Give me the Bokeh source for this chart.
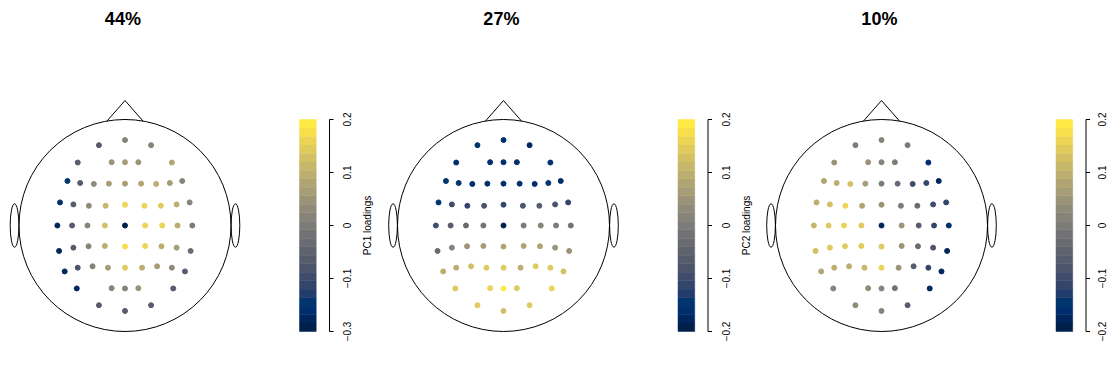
import math

from bokeh.core.properties import value
from bokeh.embed import file_html
from bokeh.layouts import row
from bokeh.models import Range1d
from bokeh.palettes import cividis
from bokeh.plotting import figure
from bokeh.resources import INLINE
from bokeh.transform import linear_cmap

# ---------------------------------------------------------------- data
titles = ["44%", "27%", "10%"]
cbar_titles = ["PC1 loadings", "PC2 loadings", ""]
cbar_ticks = [-0.2, -0.1, 0.0, 0.1, 0.2]
cbar_tick_labels = [
    ["\u22120.3", "\u22120.1", "0", "0.1", "0.2"],
    ["\u22120.2", "\u22120.1", "0", "0.1", "0.2"],
    ["\u22120.2", "\u22120.1", "0", "0.1", "0.2"],
]
color_low = [-0.3, -0.2, -0.2]
color_high = [0.2, 0.2, 0.2]

# 61 scalp electrodes, head radius = 1, nose up
electrode_x = [
    -0.246, 0.0, 0.246,
    -0.446, -0.126, 0.0, 0.126, 0.442,
    -0.543, -0.423, -0.294, -0.152, 0.0, 0.152, 0.294, 0.423, 0.540,
    -0.613, -0.487, -0.341, -0.183, 0.0, 0.183, 0.338, 0.487, 0.610,
    -0.638, -0.499, -0.354, -0.190, 0.0, 0.190, 0.351, 0.496, 0.635,
    -0.622, -0.487, -0.344, -0.190, 0.0, 0.190, 0.344, 0.487, 0.619,
    -0.569, -0.446, -0.306, -0.161, 0.0, 0.161, 0.303, 0.442, 0.566,
    -0.455, -0.126, 0.0, 0.126, 0.455,
    -0.246, 0.0, 0.246,
]
electrode_y = [
    0.758, 0.806, 0.758,
    0.594, 0.597, 0.597, 0.597, 0.594,
    0.420, 0.401, 0.392, 0.395, 0.395, 0.395, 0.392, 0.401, 0.420,
    0.218, 0.199, 0.186, 0.186, 0.196, 0.186, 0.186, 0.199, 0.218,
    0.0, 0.0, 0.0, 0.0, 0.0, 0.0, 0.0, 0.0, 0.0,
    -0.240, -0.209, -0.196, -0.193, -0.199, -0.193, -0.196, -0.209, -0.240,
    -0.433, -0.398, -0.385, -0.398, -0.398, -0.398, -0.385, -0.398, -0.433,
    -0.594, -0.591, -0.594, -0.591, -0.594,
    -0.752, -0.806, -0.752,
]

pc1_loadings = [
    -0.125, -0.025, -0.025,
    -0.135, 0.015, 0.025, 0.015, 0.050,
    -0.225, -0.135, -0.010, 0.025, 0.040, 0.050, 0.060, 0.040, -0.025,
    -0.250, -0.135, -0.010, 0.090, 0.140, 0.140, 0.130, 0.060, -0.025,
    -0.275, -0.125, -0.025, 0.100, -0.290, 0.160, 0.140, 0.060, -0.050,
    -0.265, -0.135, -0.020, 0.075, 0.175, 0.150, 0.075, 0.025, -0.090,
    -0.275, -0.150, -0.040, 0.025, 0.125, 0.075, 0.040, -0.010, -0.125,
    -0.260, -0.035, -0.025, 0.000, -0.135,
    -0.135, -0.125, -0.125,
]
pc2_loadings = [
    -0.152, -0.160, -0.180,
    -0.160, -0.160, -0.168, -0.160, -0.152,
    -0.152, -0.152, -0.168, -0.160, -0.160, -0.160, -0.168, -0.152, -0.160,
    -0.152, -0.100, -0.112, -0.088, -0.112, -0.080, -0.072, -0.080, -0.112,
    -0.100, -0.060, -0.032, -0.020, -0.192, 0.000, 0.008, 0.000, -0.020,
    -0.040, 0.020, 0.040, 0.060, 0.072, 0.072, 0.072, 0.052, 0.048,
    0.088, 0.088, 0.120, 0.140, 0.140, 0.100, 0.152, 0.140, 0.120,
    0.152, 0.168, 0.192, 0.152, 0.160,
    0.140, 0.120, 0.140,
]
pc3_loadings = [
    0.000, 0.008, 0.000,
    0.040, 0.040, 0.020, -0.008, -0.160,
    0.080, 0.100, 0.128, 0.060, 0.000, -0.032, -0.100, -0.120, -0.180,
    0.100, 0.120, 0.160, 0.080, 0.048, 0.000, -0.040, -0.100, -0.120,
    0.112, 0.152, 0.168, 0.152, -0.180, 0.048, -0.060, -0.120, -0.160,
    0.120, 0.140, 0.152, 0.152, 0.140, 0.048, -0.040, -0.080, -0.180,
    0.080, 0.088, 0.100, 0.112, 0.160, 0.040, -0.060, -0.120, -0.180,
    0.008, 0.032, 0.020, -0.020, -0.180,
    0.032, 0.020, -0.060,
]
loadings = [pc1_loadings, pc2_loadings, pc3_loadings]

# ---------------------------------------------------------------- geometry
PX = 106.0                      # pixels per head radius
FRAME_H = 370
PANEL_W = [378, 379, 350]
HEAD_CX = [124.5, 125.0, 124.0]  # head centre, px from panel's left edge
HEAD_CY = 225.0                  # head centre, px from top
CB_TOP_PX, CB_BOT_PX = 119.0, 331.0
CB_LEFT, CB_RIGHT = 174.5, 191.2     # bar edges, px right of head centre
CB_AXIS = 204.5                      # bar axis line, px right of head centre
TICK_LEN = 4.0
TICK_LABEL_OFF = [17.7, 17.7, 16.4]
CB_TITLE_OFF = 242.5
N_COLORS = 25
palette = cividis(N_COLORS)
FONT = "Liberation Sans"

cb_scale = (CB_BOT_PX - CB_TOP_PX) / 0.4     # px per unit on the bar axis
cb_zero = (CB_TOP_PX + CB_BOT_PX) / 2


def topo_panel(idx):
    w = PANEL_W[idx]
    cx = HEAD_CX[idx]
    p = figure(
        frame_width=w, frame_height=FRAME_H,
        x_range=Range1d(-cx / PX, (w - cx) / PX),
        y_range=Range1d(-(FRAME_H - HEAD_CY) / PX, HEAD_CY / PX),
        x_axis_type=None, y_axis_type=None,
        output_backend="svg", toolbar_location=None,
        min_border=0, min_border_left=0, min_border_right=0,
        min_border_top=0, min_border_bottom=0,
        outline_line_color=None, background_fill_color="white",
        border_fill_color="white",
    )
    p.extra_y_ranges = {
        "cbar": Range1d(-(FRAME_H - cb_zero) / cb_scale, cb_zero / cb_scale)
    }

    # head outline, nose and ears
    p.ellipse(x=[0], y=[0], width=2.0, height=2.0, fill_color=None,
              line_color="black", line_width=1)
    nose_half = 0.17
    nose_base = math.sqrt(1 - nose_half ** 2)
    p.line(x=[-nose_half, 0.0, nose_half], y=[nose_base, 1.179, nose_base],
           line_color="black", line_width=1)
    p.ellipse(x=[-1.042, 1.042], y=[0, 0], width=0.082, height=0.41,
              fill_color=None, line_color="black", line_width=1)

    # electrodes coloured by loading
    data = dict(x=electrode_x, y=electrode_y, v=loadings[idx])
    p.scatter(x="x", y="y", source=data, size=5, marker="circle",
              color=linear_cmap("v", palette, color_low[idx], color_high[idx]))

    # panel title
    p.text(x=[-0.02], y=[(HEAD_CY - 18.5) / PX], text=[titles[idx]],
           text_font=value(FONT), text_font_style="bold",
           text_font_size="18px", text_align="center",
           text_baseline="middle", text_color="black")

    # colour bar
    step = 0.4 / N_COLORS
    bottoms = [-0.2 + i * step for i in range(N_COLORS)]
    tops = [b + step for b in bottoms]
    p.quad(left=CB_LEFT / PX, right=CB_RIGHT / PX, bottom=bottoms, top=tops,
           fill_color=palette, line_color=palette, line_width=0.5,
           y_range_name="cbar")

    # colour bar axis: line, ticks, labels
    ax_x = CB_AXIS / PX
    p.segment(x0=[ax_x], y0=[cbar_ticks[0]], x1=[ax_x], y1=[cbar_ticks[-1]],
              line_color="black", line_width=1, y_range_name="cbar")
    p.segment(x0=[ax_x] * len(cbar_ticks), y0=cbar_ticks,
              x1=[(CB_AXIS + TICK_LEN) / PX] * len(cbar_ticks), y1=cbar_ticks,
              line_color="black", line_width=1, y_range_name="cbar")
    p.text(x=[(CB_AXIS + TICK_LABEL_OFF[idx]) / PX] * len(cbar_ticks),
           y=cbar_ticks, text=cbar_tick_labels[idx], angle=math.pi / 2,
           text_font=value(FONT), text_font_size="10px",
           text_align="center", text_baseline="middle", text_color="black",
           y_range_name="cbar")
    if cbar_titles[idx]:
        p.text(x=[CB_TITLE_OFF / PX], y=[0.0], text=[cbar_titles[idx]],
               angle=math.pi / 2, text_font=value(FONT),
               text_font_size="10px", text_align="center",
               text_baseline="middle", text_color="black",
               y_range_name="cbar")
    return p


panels = [topo_panel(i) for i in range(3)]
layout = row(*panels)

open("out.html", "w").write(file_html(layout, INLINE))
